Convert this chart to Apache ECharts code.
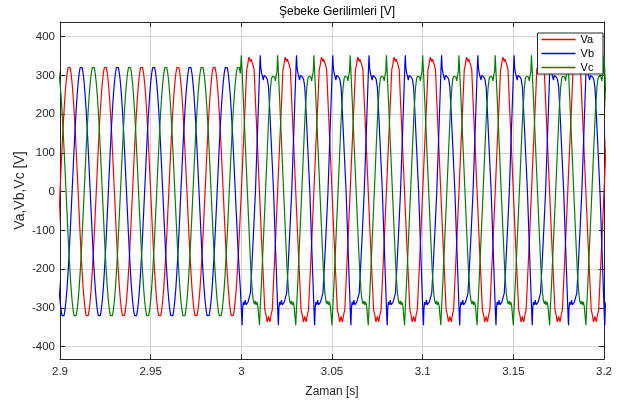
<!DOCTYPE html>
<html>
<head>
<meta charset="utf-8">
<script src="https://cdn.jsdelivr.net/npm/echarts@6/dist/echarts.min.js"></script>
<style>
  html, body { margin: 0; padding: 0; background: #fff; }
  #chart { width: 622px; height: 401px; }
</style>
</head>
<body>
<div id="chart"></div>
<script>
// Three-phase grid voltages, 2.9 s .. 3.2 s (50 Hz)
const seriesNames = ['Va', 'Vb', 'Vc'];
const timeStart = 2.9;
const timeEnd = 3.2;
const timeSwitch = 3.0;          // waveform becomes distorted from here on
const period = 0.02;             // 50 Hz
const phaseLagDeg = [0, 120, 240];

// One clean cycle (before 3.0 s), every 10 degrees from the rising zero crossing
const cleanAngles = [0, 10, 20, 30, 40, 50, 60, 70, 80, 90, 100, 110, 120, 130, 140, 150, 160, 170,
  180, 190, 200, 210, 220, 230, 240, 250, 260, 270, 280, 290, 300, 310, 320, 330, 340, 350];
const cleanValues = [0, 56, 111, 163, 209, 249, 281, 305, 320, 325, 320, 305, 281, 249, 209, 163, 111, 56,
  0, -56, -111, -163, -209, -249, -281, -305, -320, -325, -320, -305, -281, -249, -209, -163, -111, -56];

// One distorted cycle (after 3.0 s) for each phase: angle from its rising zero crossing, volts
const distortedAnglesA = [0, 20, 40, 53, 62, 70, 76, 83, 90, 97, 104, 110, 118, 127, 140, 160,
  180, 200, 220, 233, 242, 250, 256, 263, 270, 277, 284, 290, 298, 307, 320, 340];
const distortedValuesA = [0, 120, 235, 315, 325, 340, 347, 342, 336, 342, 347, 340, 325, 315, 235, 120,
  0, -120, -232, -305, -315, -326, -336, -330, -322, -330, -336, -326, -315, -305, -232, -120];

const distortedAnglesB = [0, 16, 32, 44, 48, 53, 60, 70, 78, 86, 96, 106, 118, 130, 145, 162,
  180, 196, 212, 224, 228, 233, 240, 250, 258, 266, 276, 286, 298, 310, 325, 342];
const distortedValuesB = [0, 120, 240, 330, 352, 320, 308, 303, 288, 300, 303, 296, 290, 270, 195, 100,
  0, -120, -238, -325, -345, -300, -285, -292, -280, -292, -290, -285, -282, -262, -190, -100];

const distortedAnglesC = [0, 18, 35, 50, 60, 70, 80, 90, 98, 106, 114, 120, 126, 140, 160,
  180, 198, 215, 230, 240, 250, 258, 266, 275, 284, 293, 300, 306, 320, 340];
const distortedValuesC = [0, 110, 210, 270, 292, 298, 302, 296, 286, 300, 310, 352, 320, 240, 120,
  0, -108, -205, -262, -283, -290, -282, -292, -285, -296, -300, -345, -310, -235, -118];

const distortedShiftDeg = [0, 20, 0];

const xTicks = [2.9, 2.95, 3.0, 3.05, 3.1, 3.15, 3.2];
const yTicks = [-400, -300, -200, -100, 0, 100, 200, 300, 400];

const distortedAngles = [distortedAnglesA, distortedAnglesB, distortedAnglesC];
const distortedValues = [distortedValuesA, distortedValuesB, distortedValuesC];

// Lay the per-cycle tables out along the time axis
function buildPhase(p) {
  const pts = [];
  const nCycles = Math.ceil((timeEnd - timeStart) / period) + 2;
  for (let k = -1; k < nCycles; k++) {
    for (let i = 0; i < cleanAngles.length; i++) {
      const t = timeStart + ((k * 360 + phaseLagDeg[p] + cleanAngles[i]) / 360) * period;
      if (t < timeSwitch - 1e-9) pts.push([t, cleanValues[i]]);
    }
  }
  const ang = distortedAngles[p], val = distortedValues[p];
  for (let k = -1; k < nCycles; k++) {
    for (let i = 0; i < ang.length; i++) {
      const t = timeStart + ((k * 360 + phaseLagDeg[p] + distortedShiftDeg[p] + ang[i]) / 360) * period;
      if (t >= timeSwitch - 1e-9 && t <= timeEnd + period) pts.push([t, val[i]]);
    }
  }
  return pts;
}

const colors = ['#ff0000', '#0000ff', '#008000'];
const font = "'Liberation Sans', Arial, Helvetica, sans-serif";
const axisColor = '#262626';
const gridColor = '#d2d2d2';

const chart = echarts.init(document.getElementById('chart'), null, { renderer: 'canvas' });

const xMin = xTicks[0], xMax = xTicks[xTicks.length - 1], yMin = -432, yMax = 438;

const option = {
  animation: false,
  backgroundColor: '#ffffff',
  title: {
    text: 'Şebeke Gerilimleri [V]',
    left: 332, top: 1, textAlign: 'center',
    textStyle: { fontFamily: font, fontSize: 12, fontWeight: 'normal', color: '#000' }
  },
  legend: {
    data: seriesNames,
    orient: 'vertical',
    right: 19, top: 33,
    backgroundColor: '#ffffff',
    borderColor: axisColor, borderWidth: 1, borderRadius: 0,
    padding: [1, 9, 1, 4],
    itemGap: 3,
    icon: 'rect',
    itemWidth: 34, itemHeight: 1.3,
    itemTextGap: 5,
    textStyle: { fontFamily: font, fontSize: 11, lineHeight: 11, color: '#000' }
  },
  grid: { left: 60, right: 18, top: 22, bottom: 42, show: false, outerBoundsMode: 'none', containLabel: false },
  xAxis: [{
    type: 'value', min: xMin, max: xMax, interval: 0.05,
    name: 'Zaman [s]', nameLocation: 'middle', nameGap: 27, nameMoveOverlap: false,
    nameTextStyle: { fontFamily: font, fontSize: 12, color: axisColor },
    axisLine: { show: true, onZero: false, lineStyle: { color: axisColor, width: 1 } },
    axisTick: { show: true, inside: true, length: 5, lineStyle: { color: axisColor } },
    axisLabel: { margin: 7, fontFamily: font, fontSize: 11.5, color: axisColor,
      formatter: v => String(+v.toFixed(2)) },
    splitLine: { show: true, lineStyle: { color: gridColor, width: 1 } }
  }, {
    type: 'value', position: 'top', min: xMin, max: xMax, interval: 0.05,
    axisLine: { show: true, onZero: false, lineStyle: { color: axisColor, width: 1 } },
    axisTick: { show: true, inside: true, length: 5, lineStyle: { color: axisColor } },
    axisLabel: { show: false }, splitLine: { show: false }
  }],
  yAxis: [{
    type: 'value', min: yMin, max: yMax,
    name: 'Va,Vb,Vc [V]', nameLocation: 'middle', nameGap: 33, nameMoveOverlap: false,
    nameTextStyle: { fontFamily: font, fontSize: 14, color: axisColor },
    axisLine: { show: true, onZero: false, lineStyle: { color: axisColor, width: 1 } },
    axisTick: { show: true, inside: true, length: 5, customValues: yTicks, lineStyle: { color: axisColor } },
    axisLabel: { margin: 5, fontFamily: font, fontSize: 11.5, color: axisColor, customValues: yTicks },
    splitLine: { show: true, lineStyle: { color: gridColor, width: 1 } }
  }, {
    type: 'value', position: 'right', min: yMin, max: yMax,
    axisLine: { show: true, onZero: false, lineStyle: { color: axisColor, width: 1 } },
    axisTick: { show: true, inside: true, length: 5, customValues: yTicks, lineStyle: { color: axisColor } },
    axisLabel: { show: false, customValues: yTicks }, splitLine: { show: false }
  }],
  series: seriesNames.map((name, p) => ({
    name,
    type: 'line',
    xAxisIndex: 0, yAxisIndex: 0,
    data: buildPhase(p),
    symbol: 'none',
    clip: true,
    color: colors[p],
    lineStyle: { color: colors[p], width: 1.2 }
  }))
};

chart.setOption(option);
</script>
</body>
</html>
